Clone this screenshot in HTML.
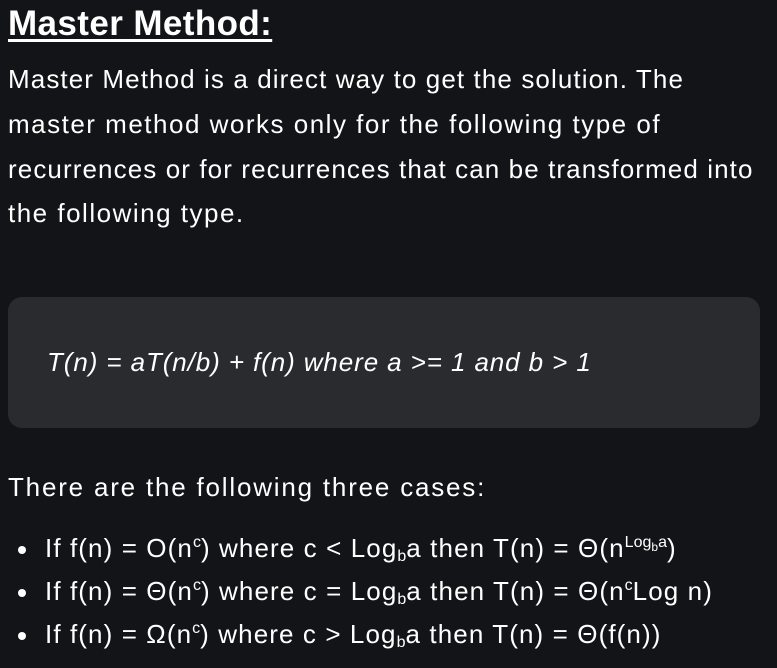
<!DOCTYPE html>
<html><head><style>
html,body{margin:0;padding:0;background:#131417;width:777px;height:668px;overflow:hidden}
body{font-family:"Liberation Sans",sans-serif;color:#fff;position:relative}
.a{position:absolute;white-space:nowrap}
h1{position:absolute;left:8px;top:4px;margin:0;font-size:35px;font-weight:bold;letter-spacing:0.4px;text-decoration:underline;text-decoration-thickness:3px;text-underline-offset:4px}
.p{font-size:26px;left:8px;letter-spacing:1.1px}
.box{position:absolute;left:8px;top:297px;width:752px;height:131px;background:#2a2b2e;border-radius:14px}
.code{font-style:italic;font-size:26px;left:47px;top:347px;letter-spacing:0.9px}
.b{font-size:26px;left:45px;letter-spacing:1.1px}
.dot{position:absolute;left:18px;width:8px;height:8px;border-radius:50%;background:#fff}
sup{font-size:16px;vertical-align:10px;line-height:0;letter-spacing:0}
sub{font-size:16px;vertical-align:-4px;line-height:0;letter-spacing:0}
</style></head><body>
<h1>Master Method:</h1>
<div class="a p" style="top:64px">Master Method is a direct way to get the solution. The</div>
<div class="a p" style="top:109px;letter-spacing:1.5px">master method works only for the following type of</div>
<div class="a p" style="top:154px">recurrences or for recurrences that can be transformed into</div>
<div class="a p" style="top:198px;letter-spacing:1.5px">the following type.</div>
<div class="box"></div>
<div class="a code">T(n) = aT(n/b) + f(n) where a &gt;= 1 and b &gt; 1</div>
<div class="a p" style="top:472px;letter-spacing:1.8px">There are the following three cases:</div>
<div class="dot" style="top:546px"></div>
<div class="a b" style="top:533px">If f(n) = O(n<sup>c</sup>) where c &lt; Log<sub>b</sub>a then T(n) = Θ(n<sup>Log<sub style="font-size:12px">b</sub>a</sup>)</div>
<div class="dot" style="top:589px"></div>
<div class="a b" style="top:576px">If f(n) = Θ(n<sup>c</sup>) where c = Log<sub>b</sub>a then T(n) = Θ(n<sup>c</sup>Log n)</div>
<div class="dot" style="top:632px"></div>
<div class="a b" style="top:619px">If f(n) = Ω(n<sup>c</sup>) where c &gt; Log<sub>b</sub>a then T(n) = Θ(f(n))</div>
</body></html>
